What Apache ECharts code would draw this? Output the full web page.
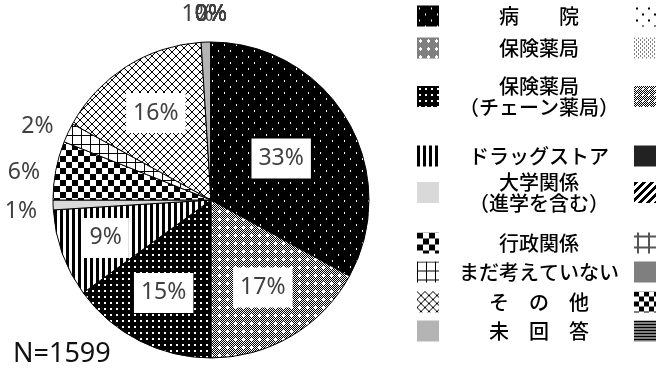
<!DOCTYPE html>
<html>
<head>
<meta charset="utf-8">
<script src="https://cdn.jsdelivr.net/npm/echarts@6/dist/echarts.min.js"></script>
<style>
  html, body { margin: 0; padding: 0; background: #fff; }
  #chart { width: 658px; height: 376px; }
</style>
</head>
<body>
<div id="chart"></div>
<script>
// Respondents' intended workplace (share of answers, %)
const categories = [
  '病　　院',
  '保険薬局',
  '保険薬局\n（チェーン薬局）',
  'ドラッグストア',
  '大学関係\n（進学を含む）',
  '行政関係',
  'まだ考えていない',
  'そ　の　他',
  '未　回　答'
];
const shares = [33, 17, 15, 9, 1, 6, 2, 16, 1];

// Further answer options that received no answers
const emptyCategories = ['区分A', '区分B', '区分C', '区分D', '区分E', '区分F', '区分G', '区分H', '区分I'];
const emptyShares = [0, 0, 0, 0, 0, 0, 0, 0, 0];

const totalN = 1599;

// ---- fill patterns ----
function tile(w, h, draw) {
  const c = document.createElement('canvas');
  c.width = w; c.height = h;
  const g = c.getContext('2d');
  draw(g, w, h);
  return { image: c, repeat: 'repeat' };
}
function px(g, x, y, col, w, h) { g.fillStyle = col; g.fillRect(x, y, w || 1, h || 1); }
function solid(col) { return col; }

const patterns = [
  // black with sparse white dots
  tile(12, 12, (g) => { px(g, 0, 0, '#000', 12, 12); px(g, 2, 2, '#fff', 1, 2); px(g, 8, 8, '#fff', 1, 2); }),
  // fine grey checker with white crosses
  tile(8, 8, (g) => {
    for (let y = 0; y < 8; y++) for (let x = 0; x < 8; x++) px(g, x, y, (x + y) % 2 ? '#000' : '#fff');
    px(g, 3, 2, '#fff', 1, 3); px(g, 2, 3, '#fff', 3, 1);
  }),
  // black with white dots
  tile(6, 6, (g) => { px(g, 0, 0, '#000', 6, 6); px(g, 2, 2, '#fff', 2, 2); }),
  // vertical stripes
  tile(6, 1, (g) => { px(g, 0, 0, '#fff', 6, 1); px(g, 0, 0, '#000', 3, 1); }),
  solid('#d9d9d9'),
  // checkerboard
  tile(12, 12, (g) => { px(g, 0, 0, '#fff', 12, 12); px(g, 0, 0, '#000', 6, 6); px(g, 6, 6, '#000', 6, 6); }),
  // square grid
  tile(9, 9, (g) => { px(g, 0, 0, '#fff', 9, 9); px(g, 0, 0, '#000', 9, 1); px(g, 0, 0, '#000', 1, 9); }),
  // diagonal lattice
  tile(8, 8, (g) => { px(g, 0, 0, '#fff', 8, 8); for (let i = 0; i < 8; i++) { px(g, i, i, '#000'); px(g, 7 - i, i, '#000'); } }),
  solid('#b4b4b4')
];

const emptyPatterns = [
  tile(12, 12, (g) => { px(g, 0, 0, '#fff', 12, 12); px(g, 2, 2, '#000', 2, 2); px(g, 8, 8, '#000', 2, 2); }),
  tile(4, 4, (g) => { px(g, 0, 0, '#fff', 4, 4); px(g, 0, 0, '#000'); px(g, 2, 2, '#000'); }),
  tile(6, 6, (g) => {
    for (let y = 0; y < 6; y++) for (let x = 0; x < 6; x++) px(g, x, y, (x + y) % 2 ? '#000' : '#fff');
    px(g, 2, 2, '#fff', 2, 2);
  }),
  solid('#222222'),
  tile(8, 8, (g) => { for (let y = 0; y < 8; y++) for (let x = 0; x < 8; x++) px(g, x, y, (x + y) % 8 < 4 ? '#000' : '#fff'); }),
  tile(11, 11, (g) => { px(g, 0, 0, '#fff', 11, 11); px(g, 3, 0, '#555', 2, 11); px(g, 0, 3, '#555', 11, 2); }),
  solid('#7f7f7f'),
  tile(10, 10, (g) => { px(g, 0, 0, '#fff', 10, 10); px(g, 0, 0, '#000', 5, 5); px(g, 5, 5, '#000', 5, 5); }),
  tile(1, 3, (g) => { px(g, 0, 0, '#000', 1, 2); px(g, 0, 2, '#fff', 1, 1); })
];

// ---- pie ----
const labelFont = 'Noto Sans, Open Sans, sans-serif';
const insideLabel = {
  position: 'inside',
  color: '#404040',
  fontFamily: labelFont,
  fontSize: 23,
  backgroundColor: '#fff',
  padding: [9, 7, 8, 7]
};
const outsideLabel = {
  position: 'outside',
  color: '#404040',
  fontFamily: labelFont,
  fontSize: 23
};

const pieData = categories.map((name, i) => ({
  name,
  value: shares[i],
  itemStyle: { color: patterns[i] },
  label: shares[i] >= 8 ? insideLabel : outsideLabel
})).concat(emptyCategories.map((name, i) => ({
  name,
  value: emptyShares[i],
  itemStyle: { color: emptyPatterns[i] },
  label: outsideLabel
})));

const allValues = pieData.map(d => d.value);
const total = allValues.reduce((a, b) => a + b, 0);
const CX = 211, CY = 200, RADIUS = 158;

// mid-angle of each sector, clockwise from 12 o'clock
const midAngles = [];
{
  let acc = 0;
  allValues.forEach(v => { midAngles.push((acc + v / 2) / total * 2 * Math.PI); acc += v; });
}

function placeLabel(p) {
  const d = pieData[p.dataIndex];
  const a = midAngles[p.dataIndex];
  const s = Math.sin(a), c = Math.cos(a);
  if (d.label.position === 'inside') {
    // narrower sectors carry their label further out
    const r = RADIUS * (0.78 - 0.008 * d.value);
    return { x: CX + r * s, y: CY - r * c, align: 'center', verticalAlign: 'middle' };
  }
  const r = RADIUS + 16;
  const x = CX + r * s, y = CY - r * c;
  if (c > 0.9) {
    // labels above the pie: those left of 12 o'clock lean left
    return { x: s < -0.001 ? x - 8 : x, y: y - 12, align: 'center', verticalAlign: 'middle' };
  }
  const drop = 6 * Math.min(1, Math.max(0, (Math.abs(s) - 0.9) * 10));
  return { x: x, y: y + drop, align: s < 0 ? 'right' : 'left', verticalAlign: 'middle' };
}

// ---- legend rows ----
const rowCenters = [16, 48, 97, 156, 193, 243, 272, 302, 331];
const legendFont = { fontFamily: 'Noto Sans CJK JP, sans-serif', fontSize: 20, fontWeight: 500, lineHeight: 21, color: '#000' };
const legends = categories.map((name, i) => {
  const lines = name.split('\n').length;
  const h = Math.max(21, lines * 21);
  return {
    orient: 'horizontal',
    left: 417,
    top: rowCenters[i] - h / 2,
    width: 600,
    padding: 0,
    itemGap: 0,
    itemWidth: 22,
    itemHeight: 21,
    icon: 'rect',
    selectedMode: false,
    data: [name, emptyCategories[i]],
    itemStyle: { borderWidth: 0 },
    formatter: n => n.split('\n').map(s => '{t|' + s + '}').join('\n'),
    textStyle: {
      rich: { t: Object.assign({ width: 190, align: 'center' }, legendFont) }
    }
  };
});

const chart = echarts.init(document.getElementById('chart'), null, { renderer: 'canvas' });
chart.setOption({
  backgroundColor: '#fff',
  animation: false,
  title: {
    text: 'N=' + totalN,
    left: 13,
    top: 341,
    padding: 0,
    textStyle: { fontFamily: labelFont, fontSize: 27, fontWeight: 'normal', color: '#111' }
  },
  legend: legends,
  series: [{
    type: 'pie',
    center: [CX, CY],
    radius: RADIUS,
    startAngle: 90,
    clockwise: true,
    avoidLabelOverlap: false,
    emphasis: { disabled: true },
    itemStyle: { borderColor: '#000', borderWidth: 1 },
    label: {
      formatter: p => Math.round(p.value / total * 100) + '%'
    },
    labelLine: { show: false },
    labelLayout: placeLabel,
    data: pieData
  }]
});
</script>
</body>
</html>
